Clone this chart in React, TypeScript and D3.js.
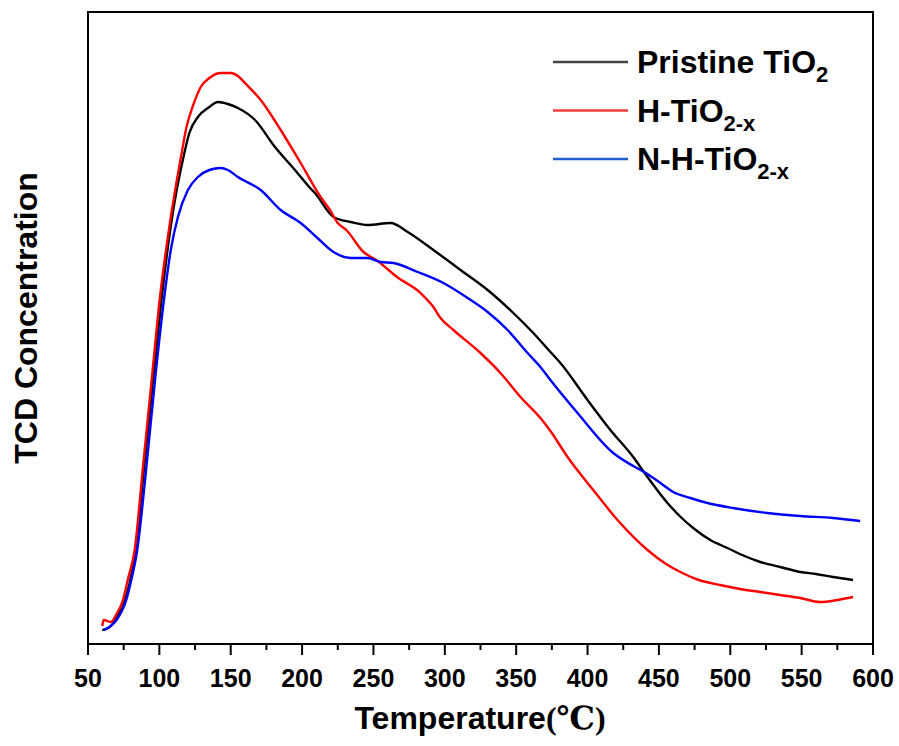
import React from "react";
import * as d3 from "d3";

const xTicks = [50, 100, 150, 200, 250, 300, 350, 400, 450, 500, 550, 600];

const pristineT = [60, 63, 66, 70, 75, 79, 83, 89, 96, 101, 108, 118, 121, 127, 135, 141, 148, 155, 167, 181, 195, 205, 209, 222, 234, 246, 262, 274, 292, 311, 330, 348, 362, 374, 381, 400, 416, 432, 442, 456, 466, 474, 486, 498, 510, 521, 535, 549, 560, 572, 586];
const pristineV = [14, 15, 18, 26, 40, 60, 90, 172, 270, 338, 418, 494, 511, 527, 537, 542, 540, 536, 524, 497, 474, 457, 451, 427, 422, 419, 421, 412, 394, 374, 354, 331, 311, 292, 281, 244, 214, 187, 167, 141, 126, 116, 104, 96, 88, 82, 77, 72, 70, 67, 64];

const hT = [60, 61, 66, 70, 74.5, 78, 82.7, 88.5, 95.5, 100.2, 107.5, 116, 119, 124, 129, 135, 143, 150, 155, 160, 171, 185, 199, 213, 219.5, 225, 231, 243, 252, 266.5, 283, 292, 297, 306, 325, 339, 353, 367, 374, 386, 404, 421, 442, 455, 465, 478, 493, 507, 521, 535, 549, 563, 575, 586];
const hV = [18, 24, 22, 30, 44, 65, 94, 177, 277, 344, 422, 494, 517, 540, 557, 566, 571, 571, 568, 561, 544, 514, 481, 447, 434, 421, 414, 392, 384, 367, 351, 337, 326, 314, 291, 271, 247, 226, 213, 187, 154, 124, 94, 80, 72, 64, 59, 55, 52, 49, 46, 42, 44, 47];

const nhT = [61, 65, 70, 76.8, 80, 84.5, 90.9, 97.9, 103.2, 108, 113, 120, 127, 135, 143, 148, 155, 171, 185, 199, 210, 222, 234, 246, 255, 264, 281, 299, 316, 330, 344, 358, 367, 374, 393, 418, 432, 442, 452, 460, 472, 484, 502, 526, 549, 572, 591];
const nhV = [14, 17, 24, 44, 62, 94, 177, 277, 344, 394, 427, 454, 467, 474, 476, 474, 467, 454, 434, 421, 407, 392, 386, 386, 382, 381, 372, 361, 346, 332, 314, 291, 277, 264, 231, 191, 178, 170, 160, 152, 146, 141, 136, 131, 128, 126, 123];

const seriesNames = ["Pristine TiO", "H-TiO", "N-H-TiO"];
const seriesSubs = ["2", "2-x", "2-x"];
const seriesColors = ["#000000", "#ff0000", "#0000ff"];
const legendColors = ["#444444", "#f03c3c", "#1f5fd0"];

export default function App() {
  const left = 88, right = 873, top = 12, bottom = 644;
  const x = d3.scaleLinear().domain([50, 600]).range([left, right]);
  const y = d3.scaleLinear().domain([0, 632]).range([bottom, top]);
  const line = d3.line<[number, number]>().x(d => x(d[0])).y(d => y(d[1])).curve(d3.curveMonotoneX);
  const data = [
    pristineT.map((t, i) => [t, pristineV[i]] as [number, number]),
    hT.map((t, i) => [t, hV[i]] as [number, number]),
    nhT.map((t, i) => [t, nhV[i]] as [number, number]),
  ];
  const minor = d3.range(75, 600, 50);
  const font = "'Liberation Sans', Arial, sans-serif";
  return (
    <svg width={899} height={746} style={{ position: "absolute", left: 0, top: 0, background: "#fff" }} fontFamily={font}>
      <rect x={0} y={0} width={899} height={746} fill="#fff" />
      {data.map((d, i) => (
        <path key={i} d={line(d) || ""} fill="none" stroke={seriesColors[i]} strokeWidth={2.4} strokeLinejoin="round" />
      ))}
      <rect x={left} y={top} width={right - left} height={bottom - top} fill="none" stroke="#000" strokeWidth={2} />
      {xTicks.map(t => (
        <g key={t}>
          <line x1={x(t)} x2={x(t)} y1={bottom} y2={bottom + 11} stroke="#000" strokeWidth={2} />
          <text x={x(t)} y={687} textAnchor="middle" fontSize={25} fontWeight="bold">{t}</text>
        </g>
      ))}
      {minor.map(t => (
        <line key={t} x1={x(t)} x2={x(t)} y1={bottom} y2={bottom + 6} stroke="#000" strokeWidth={2} />
      ))}
      <text x={480} y={729} textAnchor="middle" fontSize={32} fontWeight="bold">
        Temperature<tspan fontFamily="'Liberation Serif', 'DejaVu Serif', serif">(℃)</tspan>
      </text>
      <text transform="translate(37,318) rotate(-90)" textAnchor="middle" fontSize={32} fontWeight="bold">TCD Concentration</text>
      {seriesNames.map((n, i) => {
        const ly = 62 + i * 48.5;
        return (
          <g key={n}>
            <line x1={553} x2={628} y1={ly} y2={ly} stroke={legendColors[i]} strokeWidth={2.5} />
            <text x={637} y={ly + 11} fontSize={32} fontWeight="bold">
              {n}
              <tspan fontSize={22} dy={9}>{seriesSubs[i]}</tspan>
            </text>
          </g>
        );
      })}
    </svg>
  );
}
